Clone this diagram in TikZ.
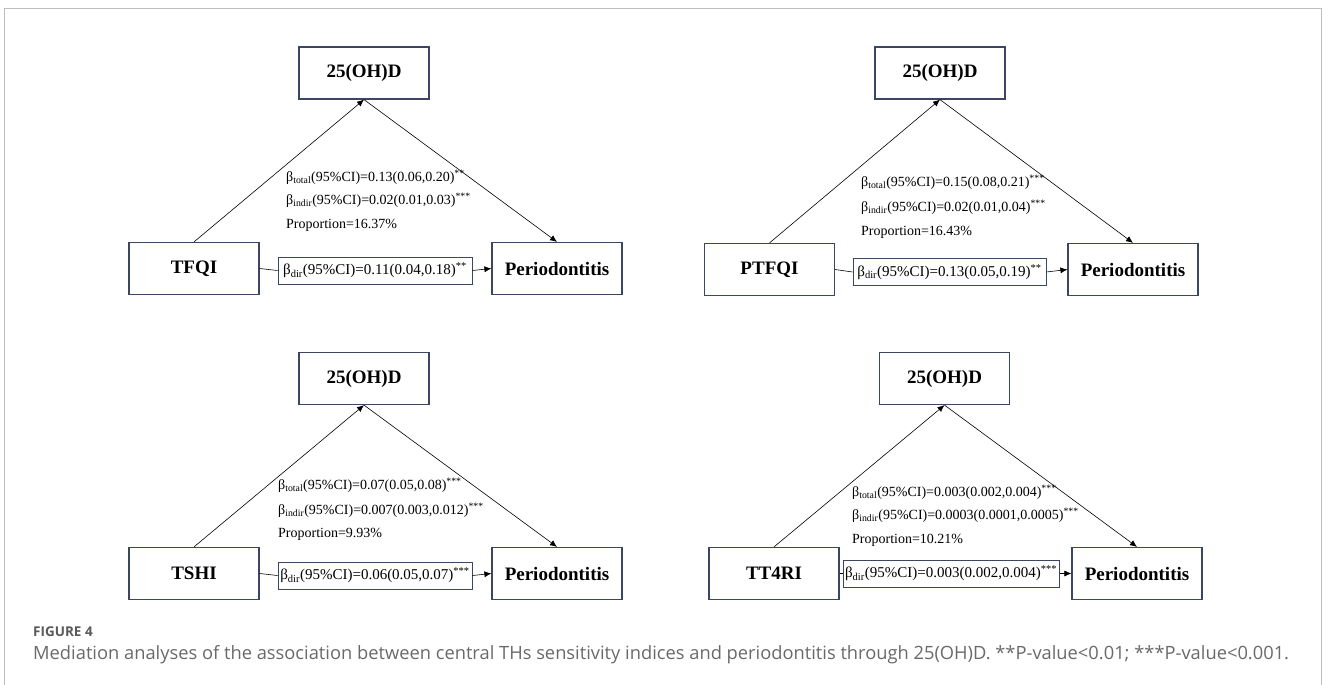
\documentclass[tikz,border=0pt]{standalone}
\usepackage{fontspec}
\setmainfont{Liberation Serif}
\newfontfamily\capfont{Open Sans}
\usepackage{xcolor}
\usetikzlibrary{arrows.meta,positioning,calc}

\definecolor{boxline}{RGB}{58,70,98}
\definecolor{capgray}{RGB}{105,105,105}
\definecolor{framegray}{RGB}{190,190,190}

\newcommand{\bsub}[1]{β\textsubscript{#1}}
\newcommand{\sig}[1]{\textsuperscript{#1}}

\begin{document}
\begin{tikzpicture}[
  x=1pt, y=-1pt,
  var/.style={draw=boxline, line width=1.2pt, minimum width=130pt, minimum height=52pt, inner sep=0pt, font=\fontsize{19}{22}\selectfont\bfseries},
  dirbox/.style={draw=boxline, line width=1pt, minimum height=27pt, inner sep=0pt, font=\fontsize{15}{18}\selectfont},
  est/.style={anchor=west, inner sep=0pt, font=\fontsize{14}{16}\selectfont},
  arr/.style={-{Latex[length=7pt,width=6pt]}, line width=0.6pt},
  link/.style={line width=0.6pt}
]
\useasboundingbox (0,0) rectangle (1328,685);
\draw[framegray, line width=1pt] (4,690) -- (4,9) -- (1321,9) -- (1321,690);

% panel 1: TFQI
\node[var] (med1) at (364,73)    {25(OH)D};
\node[var] (exp1) at (194,268.5) {TFQI};
\node[var] (out1) at (557,268.5) {Periodontitis};
\node[dirbox, minimum width=194pt] (dir1) at (375,270.5) {\bsub{dir}(95\%CI)=0.11(0.04,0.18)\sig{**}};
\node[est] (tot1)  at (286,177) {\bsub{total}(95\%CI)=0.13(0.06,0.20)\sig{**}};
\node[est] (ind1)  at (286,200) {\bsub{indir}(95\%CI)=0.02(0.01,0.03)\sig{***}};
\node[est] (prop1) at (286,225) {Proportion=16.37\%};
\draw[arr] (exp1.north) -- (med1.south);
\draw[arr] (med1.south) -- (out1.north);
\draw[link] (exp1.east) -- (dir1.west);
\draw[arr] (dir1.east) -- (out1.west);

% panel 2: PTFQI
\node[var] (med2) at (940,73)     {25(OH)D};
\node[var] (exp2) at (769.5,269.5) {PTFQI};
\node[var] (out2) at (1133,269.5) {Periodontitis};
\node[dirbox, minimum width=193pt] (dir2) at (949.5,272) {\bsub{dir}(95\%CI)=0.13(0.05,0.19)\sig{**}};
\node[est] (tot2)  at (861,182) {\bsub{total}(95\%CI)=0.15(0.08,0.21)\sig{***}};
\node[est] (ind2)  at (861,207) {\bsub{indir}(95\%CI)=0.02(0.01,0.04)\sig{***}};
\node[est] (prop2) at (861,232) {Proportion=16.43\%};
\draw[arr] (exp2.north) -- (med2.south);
\draw[arr] (med2.south) -- (out2.north);
\draw[link] (exp2.east) -- (dir2.west);
\draw[arr] (dir2.east) -- (out2.west);

% panel 3: TSHI
\node[var] (med3) at (364,378.5) {25(OH)D};
\node[var] (exp3) at (194,573.5) {TSHI};
\node[var] (out3) at (557,573.5) {Periodontitis};
\node[dirbox, minimum width=194pt] (dir3) at (375,575.5) {\bsub{dir}(95\%CI)=0.06(0.05,0.07)\sig{***}};
\node[est] (tot3)  at (278,485) {\bsub{total}(95\%CI)=0.07(0.05,0.08)\sig{***}};
\node[est] (ind3)  at (278,510) {\bsub{indir}(95\%CI)=0.007(0.003,0.012)\sig{***}};
\node[est] (prop3) at (278,534) {Proportion=9.93\%};
\draw[arr] (exp3.north) -- (med3.south);
\draw[arr] (med3.south) -- (out3.north);
\draw[link] (exp3.east) -- (dir3.west);
\draw[arr] (dir3.east) -- (out3.west);

% panel 4: TT4RI
\node[var] (med4) at (944.5,378.5) {25(OH)D};
\node[var] (exp4) at (774,573.5)   {TT4RI};
\node[var] (out4) at (1137,573.5)  {Periodontitis};
\node[dirbox, minimum width=216pt] (dir4) at (951,573.5) {\bsub{dir}(95\%CI)=0.003(0.002,0.004)\sig{***}};
\node[est] (tot4)  at (852,492) {\bsub{total}(95\%CI)=0.003(0.002,0.004)\sig{***}};
\node[est] (ind4)  at (852,515) {\bsub{indir}(95\%CI)=0.0003(0.0001,0.0005)\sig{***}};
\node[est] (prop4) at (852,540) {Proportion=10.21\%};
\draw[arr] (exp4.north) -- (med4.south);
\draw[arr] (med4.south) -- (out4.north);
\draw[link] (exp4.east) -- (dir4.west);
\draw[arr] (dir4.east) -- (out4.west);

% caption
\node[anchor=west, inner sep=0pt, text=capgray!85!black, font=\capfont\fontsize{13.5}{16}\selectfont\bfseries] (fig) at (33,632) {FIGURE 4};
\node[anchor=west, inner sep=0pt, text=capgray, font=\capfont\fontsize{18.3}{21}\selectfont] (cap) at (33,655) {Mediation analyses of the association between central THs sensitivity indices and periodontitis through 25(OH)D. **P-value<0.01; ***P-value<0.001.};
\end{tikzpicture}
\end{document}
